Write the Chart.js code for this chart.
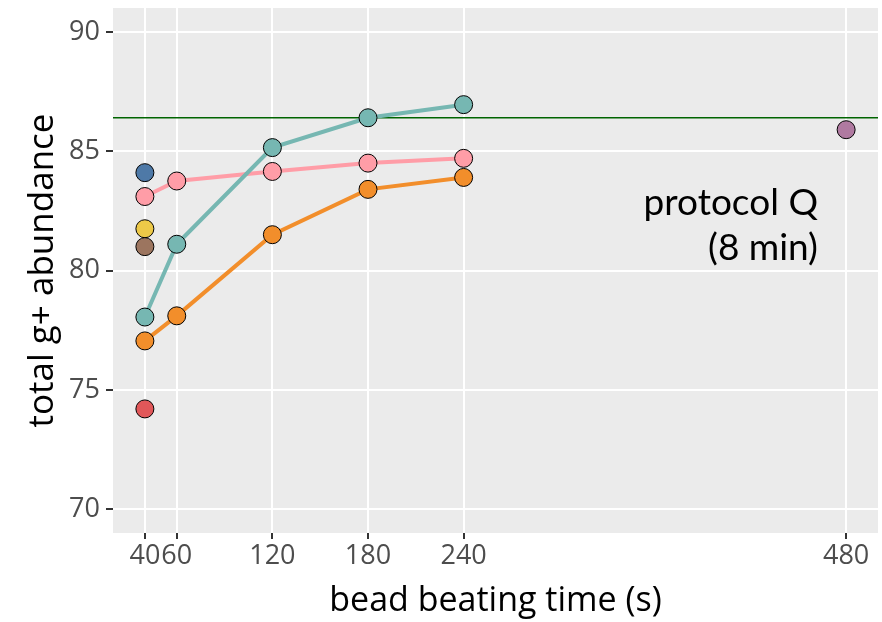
<!DOCTYPE html>
<html>
<head>
<meta charset="utf-8">
<script src="https://cdn.jsdelivr.net/npm/chart.js@4"></script>
<style>
  html, body { margin: 0; padding: 0; background: #fff; }
  #wrap { width: 882px; height: 622px; }
</style>
</head>
<body>
<div id="wrap"><canvas id="beadChart" width="882" height="622"></canvas></div>
<script>
// bead beating time (s) and total g+ abundance per protocol
const times = [40, 60, 120, 180, 240];
const tealSeries = [78.05, 81.1, 85.15, 86.4, 86.95];
const pinkSeries = [83.1, 83.75, 84.15, 84.5, 84.7];
const orangeSeries = [77.05, 78.1, 81.5, 83.4, 83.9];

// single protocols
const singleX = [40, 40, 40, 40, 480];
const singleY = [84.1, 81.75, 81.0, 74.2, 85.9];
const singleColors = ["#4e79a7", "#edc948", "#9c755f", "#e15759", "#b07aa1"];

const xTicks = [40, 60, 120, 180, 240, 480];
const yTicks = [70, 75, 80, 85, 90];
const refLevel = 86.4;
const noteLines = ["protocol Q", "(8 min)"];

const FONT = "'Open Sans', Lato, sans-serif";
const NOTE_FONT = "Lato, 'Open Sans', sans-serif";

function toPoints(xs, ys) {
    return xs.map((x, i) => ({ x: x, y: ys[i] }));
}

function lineSet(ys, color) {
    return {
        data: toPoints(times, ys),
        borderColor: color,
        backgroundColor: color,
        borderWidth: 4,
        pointRadius: 9,
        pointHoverRadius: 9,
        pointBorderColor: "#000",
        pointBorderWidth: 1,
        pointBackgroundColor: color
    };
}

// grey panel behind the plot area
const panelBg = {
    id: "panelBg",
    beforeDraw(chart) {
        const a = chart.chartArea;
        const ctx = chart.ctx;
        ctx.save();
        ctx.fillStyle = "#ebebeb";
        ctx.fillRect(a.left, a.top, a.right - a.left, a.bottom - a.top);
        ctx.restore();
    }
};

// reference line and note
const refLine = {
    id: "refLine",
    beforeDatasetsDraw(chart) {
        const a = chart.chartArea;
        const y = chart.scales.y.getPixelForValue(refLevel);
        const ctx = chart.ctx;
        ctx.save();
        ctx.strokeStyle = "#006400";
        ctx.lineWidth = 1.5;
        ctx.beginPath();
        ctx.moveTo(a.left, y);
        ctx.lineTo(a.right, y);
        ctx.stroke();

        ctx.fillStyle = "#000";
        ctx.font = "37px " + NOTE_FONT;
        ctx.textAlign = "right";
        ctx.textBaseline = "middle";
        ctx.fillText(noteLines[0], 818, 203);
        ctx.fillText(noteLines[1], 818, 248);
        ctx.restore();
    }
};

new Chart(document.getElementById("beadChart"), {
    type: "line",
    data: {
        datasets: [
            lineSet(tealSeries, "#76b7b2"),
            lineSet(pinkSeries, "#ff9da7"),
            lineSet(orangeSeries, "#f28e2b"),
            {
                data: toPoints(singleX, singleY),
                showLine: false,
                pointRadius: 9,
                pointHoverRadius: 9,
                pointBorderColor: "#000",
                pointBorderWidth: 1,
                pointBackgroundColor: singleColors
            }
        ]
    },
    options: {
        responsive: false,
        animation: false,
        layout: { autoPadding: false, padding: { top: 8, right: 4, left: 0, bottom: 0 } },
        plugins: {
            legend: { display: false },
            tooltip: { enabled: false }
        },
        scales: {
            x: {
                type: "linear",
                min: 20,
                max: 500,
                afterBuildTicks(scale) {
                    scale.ticks = xTicks.map(v => ({ value: v }));
                },
                afterFit(scale) {
                    scale.height = 89;
                    scale.paddingLeft = 0;
                    scale.paddingRight = 0;
                },
                border: { display: false },
                grid: {
                    color: "#ffffff",
                    lineWidth: 2,
                    tickColor: "#333333",
                    tickLength: 6,
                    drawTicks: true
                },
                ticks: {
                    color: "#4d4d4d",
                    font: { family: FONT, size: 27 },
                    padding: 1,
                    maxRotation: 0,
                    autoSkip: false
                },
                title: {
                    display: true,
                    text: "bead beating time (s)",
                    color: "#000",
                    font: { family: FONT, size: 34 },
                    padding: { top: 0, bottom: 0 }
                }
            },
            y: {
                min: 69,
                max: 91,
                afterBuildTicks(scale) {
                    scale.ticks = yTicks.map(v => ({ value: v }));
                },
                afterFit(scale) {
                    scale.width = 113;
                    scale.paddingTop = 0;
                    scale.paddingBottom = 0;
                },
                border: { display: false },
                grid: {
                    color: "#ffffff",
                    lineWidth: 2,
                    tickColor: "#333333",
                    tickLength: 7
                },
                ticks: {
                    color: "#4d4d4d",
                    font: { family: FONT, size: 27 },
                    padding: 6
                },
                title: {
                    display: true,
                    text: "total g+ abundance",
                    color: "#000",
                    font: { family: FONT, size: 35 },
                    padding: { top: 22, bottom: 0 }
                }
            }
        }
    },
    plugins: [panelBg, refLine]
});
</script>
</body>
</html>
